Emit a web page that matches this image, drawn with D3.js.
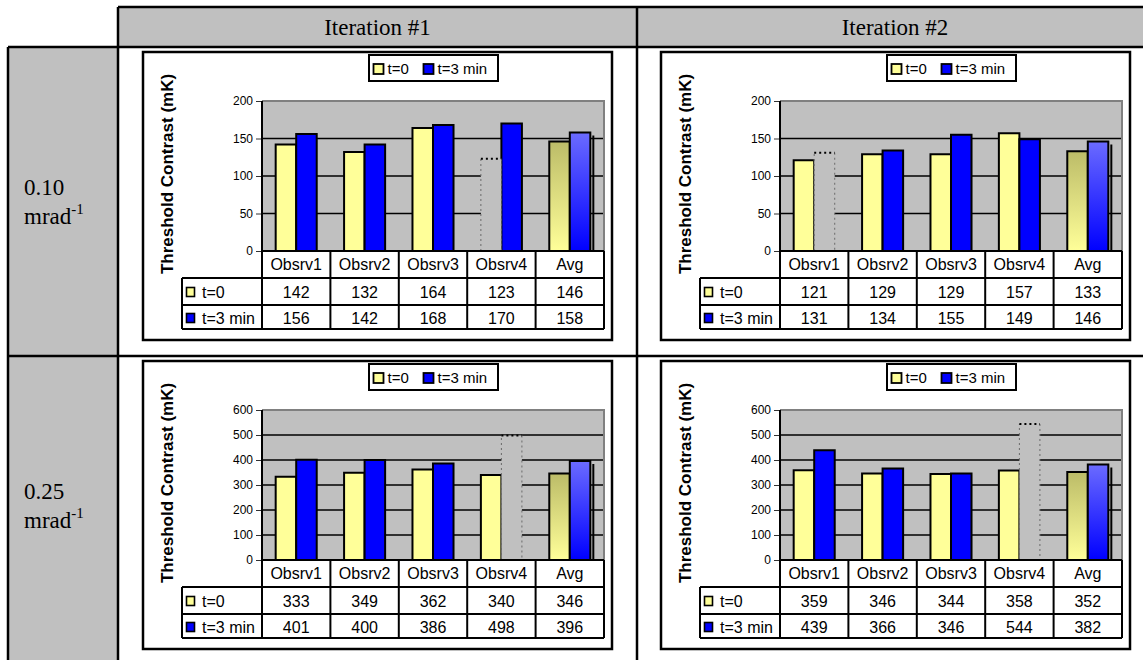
<!DOCTYPE html>
<html><head><meta charset="utf-8">
<script src="https://cdn.jsdelivr.net/npm/d3@7"></script>
<style>html,body{margin:0;padding:0;background:#fff}svg{display:block}</style>
</head><body>
<svg id="chart" width="1143" height="660"></svg>
<script>
// ---- data -------------------------------------------------------------
const categories = ["Obsrv1", "Obsrv2", "Obsrv3", "Obsrv4", "Avg"];
const seriesNames = ["t=0", "t=3 min"];
const iterations = ["Iteration #1", "Iteration #2"];
const frequencies = ["0.10", "0.25"];

const lowT0Iter1 = [142, 132, 164, 123, 146];
const lowT3Iter1 = [156, 142, 168, 170, 158];
const lowT0Iter2 = [121, 129, 129, 157, 133];
const lowT3Iter2 = [131, 134, 155, 149, 146];
const highT0Iter1 = [333, 349, 362, 340, 346];
const highT3Iter1 = [401, 400, 386, 498, 396];
const highT0Iter2 = [359, 346, 344, 358, 352];
const highT3Iter2 = [439, 366, 346, 544, 382];

const lowTicks = [0, 50, 100, 150, 200];
const highTicks = [0, 100, 200, 300, 400, 500, 600];

// observations left out of the average: [series index, category index]
const lowExcludedIter1 = [[0, 3]];
const lowExcludedIter2 = [[1, 0]];
const highExcludedIter1 = [[1, 3]];
const highExcludedIter2 = [[1, 3]];

// ---- drawing ----------------------------------------------------------
const svg = d3.select("#chart");
const SANS = "'Liberation Sans', Arial, sans-serif";
const SERIF = "'Liberation Serif', 'Times New Roman', serif";
const GRAY = "#c0c0c0";
const fills = ["#ffff99", "#0000ff"];

const defs = svg.append("defs");
function gradient(id, top, bottom) {
  const lg = defs.append("linearGradient").attr("id", id)
    .attr("x1", 0).attr("y1", 0).attr("x2", 0).attr("y2", 1);
  lg.append("stop").attr("offset", "0%").attr("stop-color", top);
  lg.append("stop").attr("offset", "100%").attr("stop-color", bottom);
}
gradient("avg0", "#bcbc68", "#ffff99");
gradient("avg1", "#6b6bff", "#0000ff");

// outer layout table
const T = { left: 8, split: 118, mid: 637, right: 1153, top: 7, head: 47, row: 356, bottom: 680 };
svg.append("rect").attr("x", T.split).attr("y", T.top)
  .attr("width", T.right - T.split).attr("height", T.head - T.top).attr("fill", GRAY);
svg.append("rect").attr("x", T.left).attr("y", T.head)
  .attr("width", T.split - T.left).attr("height", T.bottom - T.head).attr("fill", GRAY);

const lines = [
  [T.split, T.top, T.right, T.top],
  [T.left, T.head, T.right, T.head],
  [T.left, T.row, T.right, T.row],
  [T.left, T.head, T.left, T.bottom],
  [T.split, T.top, T.split, T.bottom],
  [T.mid, T.top, T.mid, T.bottom]
];
svg.selectAll("line.frame").data(lines).join("line").attr("class", "frame")
  .attr("x1", d => d[0]).attr("y1", d => d[1]).attr("x2", d => d[2]).attr("y2", d => d[3])
  .attr("stroke", "#000").attr("stroke-width", 2.5);

const headCenters = [(T.split + T.mid) / 2, (T.mid + T.right) / 2];
svg.selectAll("text.iter").data(iterations).join("text").attr("class", "iter")
  .attr("x", (d, i) => headCenters[i]).attr("y", 35)
  .attr("text-anchor", "middle").attr("font-family", SERIF).attr("font-size", 23)
  .text(d => d);

const labelBase = [195, 499];
frequencies.forEach((f, i) => {
  const t = svg.append("text").attr("font-family", SERIF).attr("font-size", 23).attr("x", 24);
  t.append("tspan").attr("x", 24).attr("y", labelBase[i]).text(f);
  t.append("tspan").attr("x", 24).attr("y", labelBase[i] + 29).text("mrad");
  t.append("tspan").attr("dy", -10).attr("font-size", 15).text("-1");
});

// one chart panel with its data table
function drawPanel(px, py, t0, t3, ticks, excluded) {
  const W = 469, H = 288;
  const plotL = 119, plotR = 461, plotT = 49, plotB = 199;
  const rowB = [226, 253, 277];
  const series = [t0, t3];
  const g = svg.append("g").attr("transform", `translate(${px},${py})`);

  g.append("rect").attr("x", 0).attr("y", 0).attr("width", W).attr("height", H)
    .attr("fill", "#fff").attr("stroke", "#000").attr("stroke-width", 2.5);

  const y = d3.scaleLinear().domain([0, d3.max(ticks)]).range([plotB, plotT]);
  const xCat = d3.scaleBand().domain(categories).range([plotL, plotR]);
  const bw = xCat.bandwidth();
  const xSer = d3.scaleBand().domain([0, 1]).range([0.2 * bw, 0.8 * bw]);

  g.append("rect").attr("x", plotL).attr("y", plotT)
    .attr("width", plotR - plotL).attr("height", plotB - plotT).attr("fill", GRAY);

  g.selectAll("line.grid").data(ticks.slice(1, -1)).join("line").attr("class", "grid")
    .attr("x1", plotL).attr("x2", plotR).attr("y1", d => y(d)).attr("y2", d => y(d))
    .attr("stroke", "#000").attr("stroke-width", 1.3);

  g.append("path")
    .attr("d", `M${plotL},${plotT}H${plotR}V${plotB}`)
    .attr("fill", "none").attr("stroke", "#808080").attr("stroke-width", 2);

  const isExcl = (s, c) => excluded.some(e => e[0] === s && e[1] === c);
  const barData = [];
  series.forEach((vals, s) => vals.forEach((v, c) => barData.push({ s, c, v })));

  const bx = d => xCat(categories[d.c]) + xSer(d.s);
  const solid = barData.filter(d => !isExcl(d.s, d.c));
  const dotted = barData.filter(d => isExcl(d.s, d.c));

  g.selectAll("rect.bar").data(solid).join("rect").attr("class", "bar")
    .attr("x", bx).attr("width", xSer.bandwidth())
    .attr("y", d => y(d.v)).attr("height", d => y(0) - y(d.v))
    .attr("fill", d => categories[d.c] === "Avg" ? `url(#avg${d.s})` : fills[d.s])
    .attr("stroke", "#000").attr("stroke-width", 2);

  dotted.forEach(d => {
    const x = bx(d), w = xSer.bandwidth(), top = y(d.v);
    g.append("rect").attr("x", x).attr("y", top).attr("width", w).attr("height", y(0) - top)
      .attr("fill", GRAY);
    g.append("path").attr("d", `M${x},${y(0)}V${top}M${x + w},${top}V${y(0)}`)
      .attr("fill", "none").attr("stroke", "#6a6a6a").attr("stroke-width", 1)
      .attr("stroke-dasharray", "2,3");
    g.append("line").attr("x1", x).attr("x2", x + w).attr("y1", top).attr("y2", top)
      .attr("stroke", "#000").attr("stroke-width", 2).attr("stroke-dasharray", "2,3");
  });

  // shading edge beside the averaged bar
  const avg = solid.filter(d => categories[d.c] === "Avg" && d.s === 1);
  g.selectAll("line.edge").data(avg).join("line").attr("class", "edge")
    .attr("x1", d => bx(d) + xSer.bandwidth() + 3).attr("x2", d => bx(d) + xSer.bandwidth() + 3)
    .attr("y1", d => y(d.v) + 3).attr("y2", plotB)
    .attr("stroke", "#000").attr("stroke-width", 2);

  // value axis
  const ax = g.append("g").attr("transform", `translate(${plotL},0)`)
    .call(d3.axisLeft(y).tickValues(ticks).tickSize(6).tickPadding(3));
  ax.select(".domain").remove();
  ax.selectAll("text").attr("font-family", SANS).attr("font-size", 12).attr("fill", "#000");
  ax.selectAll("line").attr("stroke", "#333");

  g.append("text")
    .attr("transform", "translate(30,122) rotate(-90)")
    .attr("text-anchor", "middle").attr("font-family", SANS).attr("font-size", 17)
    .attr("font-weight", "bold").text("Threshold Contrast (mK)");

  // data table
  const tblL = 39;
  const tl = [
    [plotL, plotT, plotL, rowB[2]],
    [plotL, plotB, plotR, plotB],
    [tblL, rowB[0], plotR, rowB[0]],
    [tblL, rowB[1], plotR, rowB[1]],
    [tblL, rowB[2], plotR, rowB[2]],
    [tblL, rowB[0], tblL, rowB[2]],
    [plotR, plotB, plotR, rowB[2]]
  ];
  categories.slice(1).forEach(c => tl.push([xCat(c), plotB, xCat(c), rowB[2]]));
  g.selectAll("line.tbl").data(tl).join("line").attr("class", "tbl")
    .attr("x1", d => d[0]).attr("y1", d => d[1]).attr("x2", d => d[2]).attr("y2", d => d[3])
    .attr("stroke", "#000").attr("stroke-width", 2);

  g.selectAll("text.cat").data(categories).join("text").attr("class", "cat")
    .attr("x", d => xCat(d) + bw / 2).attr("y", plotB + 19)
    .attr("text-anchor", "middle").attr("font-family", SANS).attr("font-size", 16)
    .text(d => d);

  const rowBase = [rowB[0] + 20, rowB[1] + 19];
  series.forEach((vals, s) => {
    g.selectAll(`text.val${s}`).data(vals).join("text").attr("class", `val${s}`)
      .attr("x", (d, i) => xCat(categories[i]) + bw / 2).attr("y", rowBase[s])
      .attr("text-anchor", "middle").attr("font-family", SANS).attr("font-size", 16)
      .text(d => d);
    g.append("rect").attr("x", tblL + 4.5).attr("y", rowBase[s] - 10.5)
      .attr("width", 8).attr("height", 9).attr("fill", fills[s])
      .attr("stroke", "#000").attr("stroke-width", 1.6);
    g.append("text").attr("x", tblL + 20).attr("y", rowBase[s])
      .attr("font-family", SANS).attr("font-size", 16).text(seriesNames[s]);
  });

  // legend
  const lg = g.append("g").attr("transform", "translate(226,3)");
  lg.append("rect").attr("width", 129).attr("height", 26)
    .attr("fill", "#fff").attr("stroke", "#000").attr("stroke-width", 2);
  const lx = [4.5, 54.5];
  seriesNames.forEach((n, s) => {
    lg.append("rect").attr("x", lx[s]).attr("y", 9).attr("width", 10).attr("height", 10)
      .attr("fill", fills[s]).attr("stroke", "#000").attr("stroke-width", 1.8);
    lg.append("text").attr("x", lx[s] + 14).attr("y", 19)
      .attr("font-family", SANS).attr("font-size", 15).text(n);
  });
}

const panelX = [143, 661];
const panelY = [52, 361];
drawPanel(panelX[0], panelY[0], lowT0Iter1, lowT3Iter1, lowTicks, lowExcludedIter1);
drawPanel(panelX[1], panelY[0], lowT0Iter2, lowT3Iter2, lowTicks, lowExcludedIter2);
drawPanel(panelX[0], panelY[1], highT0Iter1, highT3Iter1, highTicks, highExcludedIter1);
drawPanel(panelX[1], panelY[1], highT0Iter2, highT3Iter2, highTicks, highExcludedIter2);
</script>
</body></html>
